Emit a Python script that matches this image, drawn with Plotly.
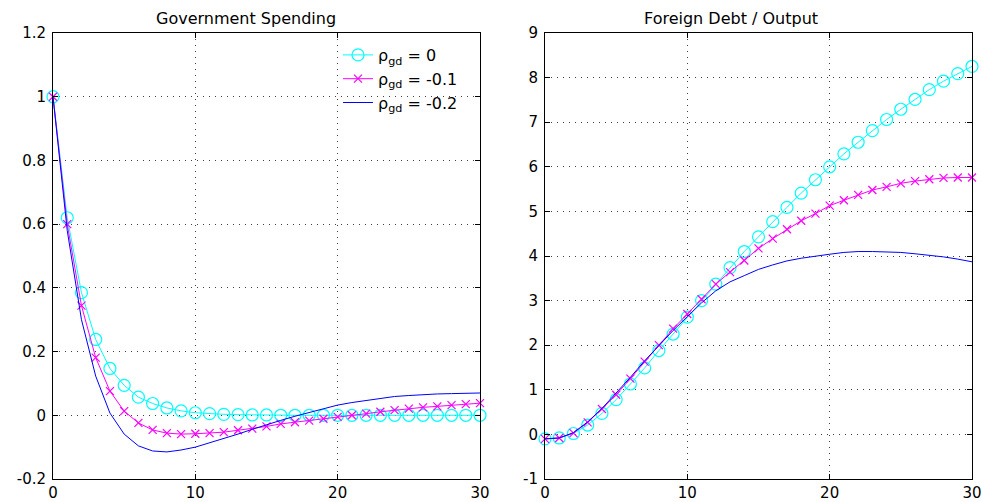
import plotly.graph_objects as go

t = list(range(31))

# Government Spending
gov_rho0 = [1.0, 0.62, 0.385, 0.238, 0.147, 0.094, 0.057, 0.037, 0.023, 0.014, 0.008,
            0.005, 0.003, 0.002, 0.001, 0.001, 0.0, 0.0, 0.0, 0.0, 0.0,
            0.0, 0.0, 0.0, 0.0, 0.0, 0.0, 0.0, 0.0, 0.0, 0.0]
gov_rho1 = [1.0, 0.60, 0.344, 0.181, 0.076, 0.013, -0.024, -0.046, -0.056, -0.059, -0.058,
            -0.056, -0.053, -0.047, -0.042, -0.035, -0.027, -0.022, -0.017, -0.011, -0.005,
            0.0, 0.005, 0.011, 0.016, 0.021, 0.025, 0.028, 0.032, 0.035, 0.038]
gov_rho2 = [1.0, 0.58, 0.30, 0.123, 0.007, -0.059, -0.096, -0.112, -0.115, -0.109, -0.10,
            -0.087, -0.074, -0.059, -0.044, -0.029, -0.016, -0.003, 0.009, 0.021, 0.032,
            0.040, 0.047, 0.054, 0.059, 0.062, 0.065, 0.067, 0.068, 0.069, 0.070]

# Foreign Debt / Output
debt_rho0 = [-0.10, -0.08, 0.02, 0.21, 0.47, 0.78, 1.13, 1.49, 1.88, 2.25, 2.63,
             3.00, 3.37, 3.74, 4.10, 4.43, 4.77, 5.09, 5.41, 5.71, 6.00,
             6.29, 6.55, 6.81, 7.06, 7.29, 7.51, 7.73, 7.92, 8.09, 8.25]
debt_rho1 = [-0.10, -0.08, 0.03, 0.27, 0.57, 0.89, 1.25, 1.63, 2.00, 2.37, 2.70,
             3.03, 3.37, 3.64, 3.90, 4.17, 4.39, 4.60, 4.79, 4.95, 5.13,
             5.25, 5.37, 5.48, 5.55, 5.63, 5.68, 5.72, 5.75, 5.76, 5.76]
debt_rho2 = [-0.10, -0.08, 0.04, 0.28, 0.58, 0.92, 1.28, 1.65, 2.00, 2.33, 2.64,
             2.95, 3.22, 3.42, 3.56, 3.70, 3.80, 3.89, 3.95, 4.00, 4.04,
             4.08, 4.10, 4.10, 4.09, 4.08, 4.05, 4.02, 3.98, 3.93, 3.87]

names = ["ρ<sub>gd</sub> = 0", "ρ<sub>gd</sub> = -0.1", "ρ<sub>gd</sub> = -0.2"]
colors = ["#00FFFF", "#FF00FF", "#0000FF"]

x_ticks = [0, 10, 20, 30]
x_ticktext = ["0", "10", "20", "30"]
gov_ticks = [-0.2, 0, 0.2, 0.4, 0.6, 0.8, 1.0, 1.2]
gov_ticktext = ["-0.2", "0", "0.2", "0.4", "0.6", "0.8", "1", "1.2"]
debt_ticks = [-1, 0, 1, 2, 3, 4, 5, 6, 7, 8, 9]
debt_ticktext = ["-1", "0", "1", "2", "3", "4", "5", "6", "7", "8", "9"]

titles = ["Government Spending", "Foreign Debt / Output"]

FONT = "DejaVu Sans"
W, H = 981, 502


def px_x(v):
    return v / W


def px_y(v):
    return 1 - v / H


fig = go.Figure()


def add_series(ys, xa, ya, show):
    y0, y1, y2 = ys
    fig.add_trace(go.Scatter(
        x=t, y=y0, name=names[0], mode="lines+markers", xaxis=xa, yaxis=ya,
        line=dict(color=colors[0], width=1),
        marker=dict(symbol="circle-open", size=12, color=colors[0], line=dict(width=1.2)),
        showlegend=show, cliponaxis=False))
    fig.add_trace(go.Scatter(
        x=t, y=y1, name=names[1], mode="lines+markers", xaxis=xa, yaxis=ya,
        line=dict(color=colors[1], width=1),
        marker=dict(symbol="x-thin-open", size=8, color=colors[1], line=dict(width=1.2, color=colors[1])),
        showlegend=show, cliponaxis=False))
    fig.add_trace(go.Scatter(
        x=t, y=y2, name=names[2], mode="lines", xaxis=xa, yaxis=ya,
        line=dict(color=colors[2], width=1),
        showlegend=show, cliponaxis=False))


add_series((gov_rho0, gov_rho1, gov_rho2), "x", "y", True)
add_series((debt_rho0, debt_rho1, debt_rho2), "x2", "y2", False)

axis_common = dict(
    showline=True, linecolor="black", linewidth=1, mirror="ticks",
    ticks="inside", ticklen=5, tickcolor="black", tickwidth=1,
    showgrid=True, gridcolor="rgba(0,0,0,0.75)", gridwidth=1, griddash="1px,5px",
    zeroline=False, automargin=False, ticklabeloverflow="allow",
    tickfont=dict(family=FONT, size=15, color="black"),
)

left_dom = [px_x(53), px_x(480)]
right_dom = [px_x(545), px_x(972)]
y_dom = [px_y(479), px_y(33)]

fig.update_layout(
    width=W, height=H, autosize=False,
    margin=dict(l=0, r=0, t=0, b=0, autoexpand=False),
    paper_bgcolor="white", plot_bgcolor="white",
    font=dict(family=FONT, size=15, color="black"),
    xaxis=dict(domain=left_dom, anchor="y", range=[0, 30], tickvals=x_ticks,
               ticktext=x_ticktext, ticklabelstandoff=0, **axis_common),
    yaxis=dict(domain=y_dom, anchor="x", range=[-0.2, 1.2], tickvals=gov_ticks,
               ticktext=gov_ticktext, ticklabelstandoff=3, **axis_common),
    xaxis2=dict(domain=right_dom, anchor="y2", range=[0, 30], tickvals=x_ticks,
                ticktext=x_ticktext, ticklabelstandoff=0, **axis_common),
    yaxis2=dict(domain=y_dom, anchor="x2", range=[-1, 9], tickvals=debt_ticks,
                ticktext=debt_ticktext, ticklabelstandoff=3, **axis_common),
    legend=dict(x=px_x(338), y=px_y(38), xanchor="left", yanchor="top",
                bgcolor="rgba(0,0,0,0)", borderwidth=0,
                font=dict(family=FONT, size=16, color="black"),
                tracegroupgap=0),
    showlegend=True,
)

fig.add_annotation(text=titles[0], x=px_x(245.5), y=px_y(19), xref="paper", yref="paper",
                   showarrow=False, xanchor="center", yanchor="middle",
                   font=dict(family=FONT, size=16, color="black"))
fig.add_annotation(text=titles[1], x=px_x(731), y=px_y(19), xref="paper", yref="paper",
                   showarrow=False, xanchor="center", yanchor="middle",
                   font=dict(family=FONT, size=16, color="black"))

fig.write_html(
    "out.html",
    config={"displayModeBar": False},
    post_script="document.body.style.margin='0';document.body.style.overflow='hidden';",
)
